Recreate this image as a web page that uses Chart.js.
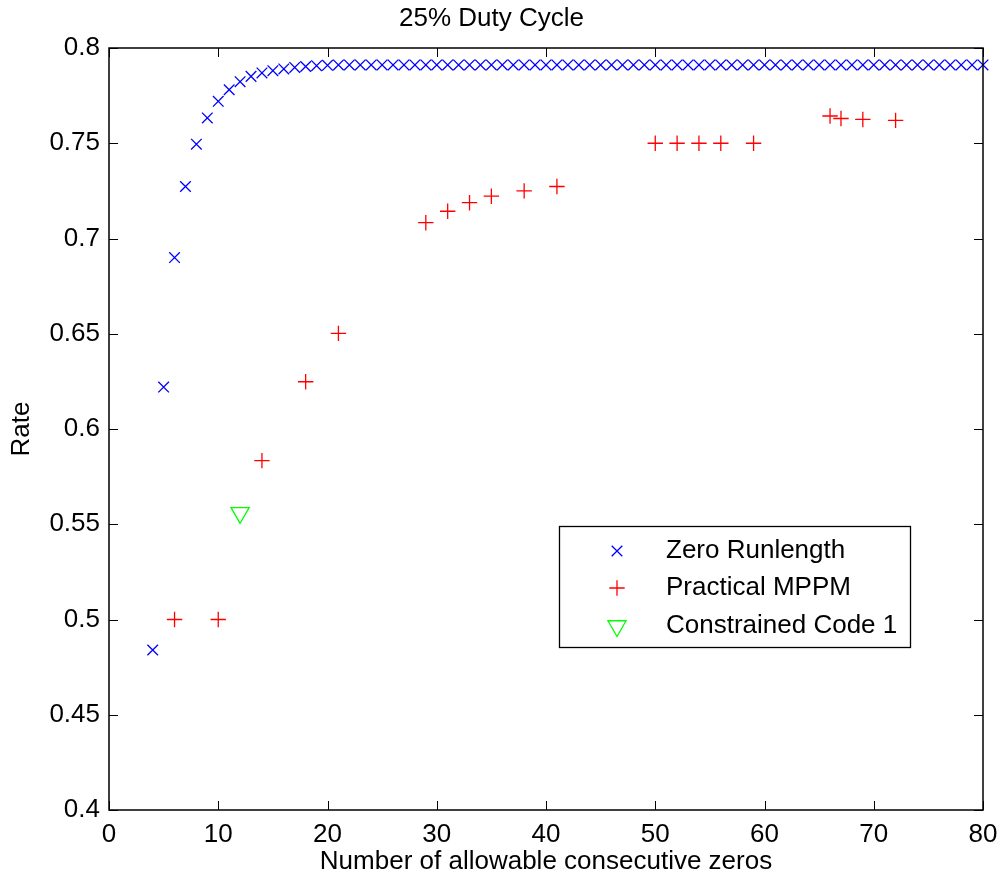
<!DOCTYPE html>
<html lang="en">
<head>
  <title>25% Duty Cycle</title>
  <meta charset="utf-8">
  <script src="https://cdn.jsdelivr.net/npm/chart.js@4.4.0/dist/chart.umd.min.js"></script>
  <style>
    body { margin: 0; background: #fff; }
    canvas { display: block; }
  </style>
</head>
<body>

<canvas id="mycanvas" width="1000" height="880"></canvas>

<script>

// Zero Runlength (blue x)
const zeroX = [4,5,6,7,8,9,10,11,12,13,14,15,16,17,18,19,20,
  21,22,23,24,25,26,27,28,29,30,31,32,33,34,35,36,37,38,39,40,
  41,42,43,44,45,46,47,48,49,50,51,52,53,54,55,56,57,58,59,60,
  61,62,63,64,65,66,67,68,69,70,71,72,73,74,75,76,77,78,79,80];
const zeroRate = [0.484,0.622,0.690,0.7273,0.7495,0.7633,0.772,0.7781,0.7823,0.7851,0.7869,0.7881,0.789,0.7898,0.7903,0.7907,0.7909,
  0.7911,0.7911,0.7911,0.7911,0.7911,0.7911,0.7911,0.7911,0.7911,0.7911,0.7911,0.7911,0.7911,0.7911,0.7911,0.7911,0.7911,0.7911,0.7911,0.7911,
  0.7911,0.7911,0.7911,0.7911,0.7911,0.7911,0.7911,0.7911,0.7911,0.7911,0.7911,0.7911,0.7911,0.7911,0.7911,0.7911,0.7911,0.7911,0.7911,0.7911,
  0.7911,0.7911,0.7911,0.7911,0.7911,0.7911,0.7911,0.7911,0.7911,0.7911,0.7911,0.7911,0.7911,0.7911,0.7911,0.7911,0.7911,0.7911,0.7911,0.7911];

// Practical MPPM (red +)
const mppmX = [6,10,14,18,21,29,31,33,35,38,41,50,52,54,56,59,66,67,69,72];
const mppmRate = [0.5,0.5,0.5834,0.6248,0.6502,0.7083,0.7143,0.7188,0.7222,0.725,0.7273,
  0.75,0.75,0.75,0.75,0.75,0.7643,0.763,0.7625,0.762];

// Constrained Code 1 (green triangle)
const codeX = [12];
const codeRate = [0.556];

const seriesNames = ['Zero Runlength', 'Practical MPPM', 'Constrained Code 1'];
const xTicks = [0,10,20,30,40,50,60,70,80];
const yTicks = [0.4,0.45,0.5,0.55,0.6,0.65,0.7,0.75,0.8];

const FONT = '"Liberation Sans", Arial, Helvetica, sans-serif';

function toPoints(xs, ys) {
  return xs.map((x, i) => ({x: x, y: ys[i]}));
}

// marker drawing used by the legend (same shapes as the datasets)
function drawMarker(ctx, style, x, y, r) {
  ctx.beginPath();
  if (style === 'crossRot') {
    const d = r * Math.SQRT1_2;
    ctx.moveTo(x - d, y - d); ctx.lineTo(x + d, y + d);
    ctx.moveTo(x - d, y + d); ctx.lineTo(x + d, y - d);
  } else if (style === 'cross') {
    ctx.moveTo(x - r, y); ctx.lineTo(x + r, y);
    ctx.moveTo(x, y - r); ctx.lineTo(x, y + r);
  } else {
    // downward triangle, centroid at (x,y)
    const s = Math.sin(Math.PI / 3) * r;
    ctx.moveTo(x, y + r);
    ctx.lineTo(x - s, y - r / 2);
    ctx.lineTo(x + s, y - r / 2);
    ctx.closePath();
  }
  ctx.stroke();
}

// box + inward ticks on all four sides (matlab look) and the legend
const boxPlugin = {
  id: 'box',
  afterDraw(chart) {
    const ctx = chart.ctx;
    const a = chart.chartArea;
    const xs = chart.scales.x, ys = chart.scales.y;
    const tl = 9;
    ctx.save();
    ctx.strokeStyle = '#000';
    ctx.lineWidth = 1;
    xTicks.forEach(v => {
      const px = Math.round(xs.getPixelForValue(v)) + 0.5;
      ctx.beginPath();
      ctx.moveTo(px, a.bottom); ctx.lineTo(px, a.bottom - tl);
      ctx.moveTo(px, a.top); ctx.lineTo(px, a.top + tl);
      ctx.stroke();
    });
    yTicks.forEach(v => {
      const py = Math.round(ys.getPixelForValue(v)) + 0.5;
      ctx.beginPath();
      ctx.moveTo(a.left, py); ctx.lineTo(a.left + tl, py);
      ctx.moveTo(a.right, py); ctx.lineTo(a.right - tl, py);
      ctx.stroke();
    });
    ctx.lineWidth = 1.5;
    ctx.strokeRect(a.left, a.top, a.right - a.left, a.bottom - a.top);

    // legend
    const lx = 559, ly = 526, lw = 351, lh = 121;
    ctx.fillStyle = '#fff';
    ctx.fillRect(lx, ly, lw, lh);
    ctx.lineWidth = 1.3;
    ctx.strokeStyle = '#000';
    ctx.strokeRect(lx + 0.5, ly + 0.5, lw, lh);
    const rows = [551, 588, 626];
    chart.data.datasets.forEach((ds, i) => {
      ctx.strokeStyle = ds.borderColor;
      ctx.lineWidth = ds.borderWidth;
      drawMarker(ctx, ds.pointStyle, 617, rows[i], ds.pointRadius);
      ctx.fillStyle = '#000';
      ctx.font = '26px ' + FONT;
      ctx.textAlign = 'left';
      ctx.textBaseline = 'middle';
      ctx.fillText(seriesNames[i], 666, rows[i]);
    });
    ctx.restore();
  }
};

Chart.defaults.color = '#000';
Chart.defaults.font.family = FONT;

const ctx_live = document.getElementById('mycanvas');
const myChart = new Chart(ctx_live, {
  type: 'scatter',
  data: {
    datasets: [{
      label: seriesNames[0],
      data: toPoints(zeroX, zeroRate),
      pointStyle: 'crossRot',
      pointRadius: 7.5,
      borderColor: '#0000ff',
      backgroundColor: 'rgba(0,0,0,0)',
      borderWidth: 1.3,
      clip: false,
      order: 3
    }, {
      label: seriesNames[1],
      data: toPoints(mppmX, mppmRate),
      pointStyle: 'cross',
      pointRadius: 7.7,
      borderColor: '#ff0000',
      backgroundColor: 'rgba(0,0,0,0)',
      borderWidth: 1.3,
      clip: false,
      order: 2
    }, {
      label: seriesNames[2],
      data: toPoints(codeX, codeRate),
      pointStyle: 'triangle',
      rotation: 180,
      pointRadius: 10.5,
      borderColor: '#00ff00',
      backgroundColor: 'rgba(0,0,0,0)',
      borderWidth: 1.3,
      clip: false,
      order: 1
    }]
  },
  options: {
    responsive: false,
    animation: false,
    events: [],
    layout: { padding: { left: 0, right: 17, top: 0, bottom: 0 } },
    scales: {
      x: {
        type: 'linear',
        min: 0,
        max: 80,
        grid: { display: false, tickLength: 0 },
        border: { display: false },
        ticks: {
          stepSize: 10,
          padding: 9,
          font: { size: 26 },
          maxRotation: 0
        },
        title: {
          display: true,
          text: 'Number of allowable consecutive zeros',
          font: { size: 26 },
          padding: { top: 0, bottom: 3 }
        },
        afterFit: (s) => { s.height = 70; s.paddingLeft = 0; s.paddingRight = 0; }
      },
      y: {
        min: 0.4,
        max: 0.8,
        grid: { display: false, tickLength: 0 },
        border: { display: false },
        ticks: {
          stepSize: 0.05,
          padding: 9,
          font: { size: 26 },
          callback: (v) => String(Math.round(v * 100) / 100)
        },
        title: {
          display: true,
          text: 'Rate',
          font: { size: 26 },
          padding: { top: 6, bottom: 0 }
        },
        afterFit: (s) => { s.width = 109; s.paddingTop = 0; s.paddingBottom = 0; }
      }
    },
    plugins: {
      legend: { display: false },
      tooltip: { enabled: false },
      title: {
        display: true,
        text: '25% Duty Cycle',
        font: { size: 26, weight: 'normal' },
        padding: { top: 3.5, bottom: 13.3 }
      }
    }
  },
  plugins: [boxPlugin]
});

</script>
</body>
</html>
